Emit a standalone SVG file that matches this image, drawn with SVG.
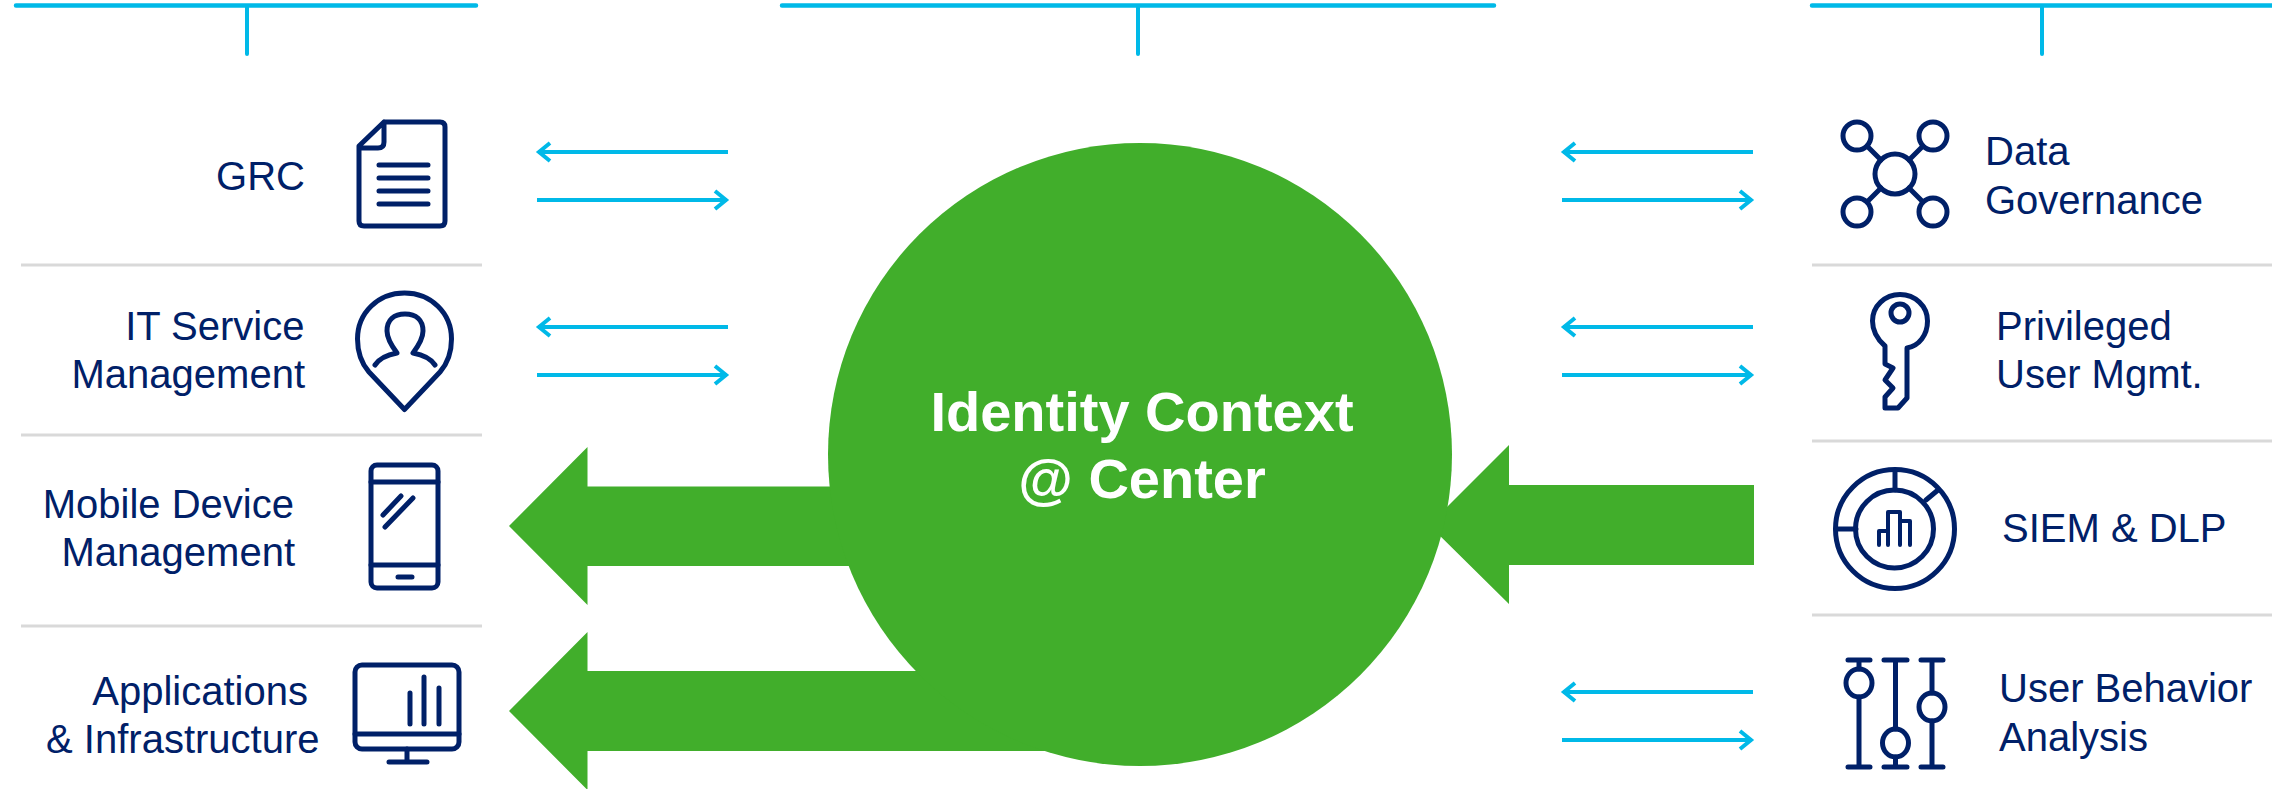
<svg xmlns="http://www.w3.org/2000/svg" width="2272" height="789" viewBox="0 0 2272 789">
<style>
text{font-family:"Liberation Sans",Arial,sans-serif;font-size:40px;fill:#002068}
.e{text-anchor:end}
.c{font-weight:bold;font-size:56px;fill:#fff;text-anchor:middle}
.i{fill:none;stroke:#002068;stroke-width:5;stroke-linecap:round;stroke-linejoin:round}
.h{fill:none;stroke:#00b9e8;stroke-width:4.5;stroke-linecap:round}
.v{fill:none;stroke:#00b9e8;stroke-width:4;stroke-linecap:round}
.s{fill:none;stroke:#d9d9d9;stroke-width:3}
.a{fill:none;stroke:#00b9e8;stroke-width:4}
.g{fill:#41ae2b}
</style>
<defs>
<path id="al" class="a" d="M192 0H2M14-9 3 0 14 9"/>
<path id="ar" class="a" d="M0 0H190M178-9 189 0 178 9"/>
</defs>
<g id="headers">
<path class="h" d="M16 5.500H476M782 5.500H1494M1812 5.500H2272"/>
<path class="v" d="M247 6V54M1138 6V54M2042 6V54"/>
</g>
<g id="separators">
<path class="s" d="M21 265H482M21 435H482M21 626H482M1812 265H2272M1812 441H2272M1812 615H2272"/>
</g>
<g id="connectors">
<use href="#al" x="536" y="152"/><use href="#ar" x="537" y="200"/>
<use href="#al" x="536" y="327"/><use href="#ar" x="537" y="375"/>
<use href="#al" x="1561" y="152"/><use href="#ar" x="1562" y="200"/>
<use href="#al" x="1561" y="327"/><use href="#ar" x="1562" y="375"/>
<use href="#al" x="1561" y="692"/><use href="#ar" x="1562" y="740"/>
<path class="g" d="M509 526 587.500 447V486.500H900V566H587.500V605Z"/>
<path class="g" d="M509 711 587.500 632V671H1100V751H587.500V790Z"/>
<path class="g" d="M1429 525 1509 445V485H1754V565H1509V604Z"/>
</g>
<g id="center">
<ellipse class="g" cx="1140" cy="454.500" rx="312" ry="311.500"/>
<text class="c" x="1142" y="431">Identity Context</text>
<text class="c" x="1142" y="498">@ Center</text>
</g>
<g id="grc">
<text class="e" x="305" y="189.500">GRC</text>
<path class="i" d="M384 122H440Q445 122 445 127V221Q445 226 440 226H364Q359 226 359 221V146L384 122V142Q384 148 378 148H359M379 165H428M379 178H428M379 191H428M379 204H428"/>
</g>
<g id="itsm">
<text class="e" x="304.500" y="339.500">IT Service</text>
<text class="e" x="305" y="387.500">Management</text>
<path class="i" d="M404.500 293C378 293 357.500 313 357.500 339C357.500 352 362 364 369 372L404.500 409.500L440 372C447 364 451.500 352 451.500 339C451.500 313 431 293 404.500 293Z"/>
<path class="i" d="M375 365C379 359 386 355 397 353C391 345 387 337 387 331C387 320 394 314 405 314C416 314 423 320 423 331C423 337 419 345 413 353C424 355 431 359 435 365"/>
</g>
<g id="mdm">
<text class="e" x="294" y="518">Mobile Device</text>
<text class="e" x="295" y="566">Management</text>
<rect class="i" x="371" y="465" width="67" height="123" rx="6"/>
<path class="i" d="M371 482H438M371 565H438M398 577H412M383 515 401 496M385 527 413 498"/>
</g>
<g id="apps">
<text class="e" x="308" y="704.500">Applications</text>
<text class="e" x="319.500" y="753">&amp; Infrastructure</text>
<rect class="i" x="355" y="665" width="104" height="84" rx="7"/>
<path class="i" d="M355 734H459M407 749V762M389 762H427M410 693V724M424 677V724M439 688V724"/>
</g>
<g id="data">
<text x="1985" y="164.500">Data</text>
<text x="1985" y="214">Governance</text>
<g class="i"><circle cx="1895" cy="174" r="20"/><circle cx="1857" cy="136" r="14"/><circle cx="1933" cy="136" r="14"/><circle cx="1857" cy="212" r="14"/><circle cx="1933" cy="212" r="14"/>
<path d="M1867 146 1881 160M1923 146 1909 160M1867 202 1881 188M1923 202 1909 188"/></g>
</g>
<g id="pum">
<text x="1996" y="339.500">Privileged</text>
<text x="1996" y="387.500">User Mgmt.</text>
<g class="i"><circle cx="1900" cy="313" r="9"/>
<path d="M1885 346C1877 339 1872.500 330 1872.500 321C1872.500 306 1885 294.500 1900 294.500C1915 294.500 1927.500 306 1927.500 321C1927.500 335 1919 346 1907 348V398L1898 408H1885V397L1893 388 1885 380 1893 368 1885 364Z"/></g>
</g>
<g id="siem">
<text x="2002" y="542">SIEM &amp; DLP</text>
<g class="i"><circle cx="1895" cy="529" r="59.500"/><circle cx="1894.500" cy="529" r="39"/>
<path d="M1895 470V490M1836 529H1856M1926 500 1938 490"/>
<path stroke-width="4" d="M1879 545V531H1888V545M1888 531V512H1900V545M1900 521H1910V545"/></g>
</g>
<g id="uba">
<text x="1999" y="701.500">User Behavior</text>
<text x="1999" y="750.500">Analysis</text>
<g class="i"><path d="M1848 660H1870M1884 660H1907M1921 660H1943M1848 767H1870M1884 767H1907M1921 767H1943M1859 660V669M1859 697V767M1895.500 660V729M1895.500 757V767M1932 660V693M1932 721V767"/>
<ellipse cx="1859" cy="683" rx="13" ry="14"/><ellipse cx="1895.500" cy="743" rx="13" ry="14"/><ellipse cx="1932" cy="707" rx="13" ry="14"/></g>
</g>
</svg>
